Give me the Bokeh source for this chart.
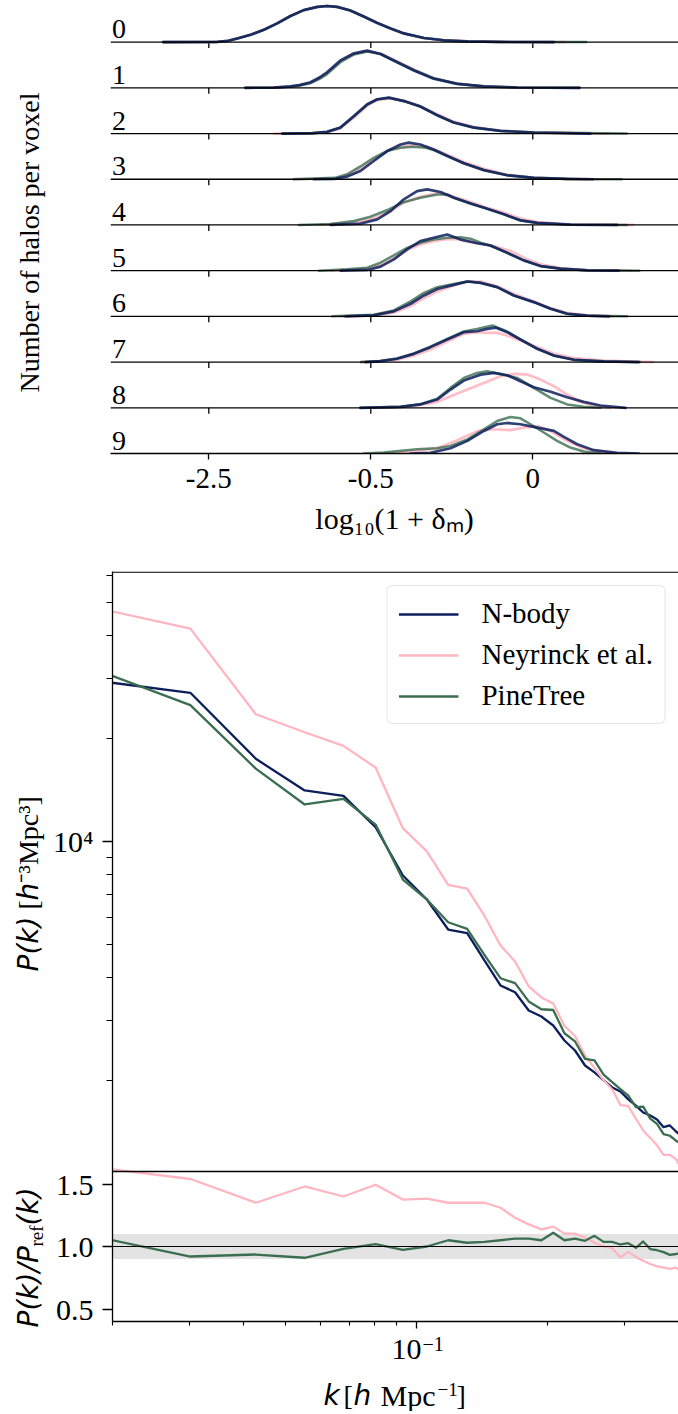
import math
from bokeh.plotting import figure
from bokeh.models import (Range1d, Span, FixedTicker, CustomJSTickFormatter,
                          BoxAnnotation, Legend, LegendItem, LinearScale)
from bokeh.layouts import column, row
from bokeh.core.properties import value
from bokeh.embed import file_html
from bokeh.resources import INLINE

# ------------------------------------------------------------------ data
ROW_LABELS = ["0", "1", "2", "3", "4", "5", "6", "7", "8", "9"]
RIDGE_TICKS = [-1.0, -0.5, 0.0]
RIDGE_TICK_LABELS = ["-2.5", "-0.5", "0"]

# N-body ridge curves (x in log10(1+delta), h in row heights)
NBODY_RIDGE_X = [
    [-1.141, -0.974, -0.94, -0.912, -0.871, -0.830, -0.789, -0.748, -0.707, -0.665, -0.635, -0.604, -0.563, -0.522, -0.480, -0.439, -0.398, -0.336, -0.275, -0.202, -0.100, 0.065],
    [-0.887, -0.80, -0.748, -0.72, -0.686, -0.66, -0.635, -0.594, -0.552, -0.511, -0.470, -0.419, -0.367, -0.306, -0.233, -0.151, -0.048, 0.144],
    [-0.773, -0.68, -0.635, -0.594, -0.552, -0.511, -0.480, -0.444, -0.398, -0.347, -0.295, -0.244, -0.182, -0.100, 0.003, 0.178],
    [-0.676, -0.61, -0.573, -0.532, -0.491, -0.449, -0.408, -0.383, -0.347, -0.306, -0.264, -0.213, -0.151, -0.079, 0.003, 0.106, 0.185],
    [-0.624, -0.532, -0.48, -0.439, -0.398, -0.357, -0.326, -0.285, -0.244, -0.192, -0.141, -0.089, -0.038, 0.014, 0.116, 0.26],
    [-0.593, -0.511, -0.47, -0.429, -0.388, -0.347, -0.306, -0.264, -0.223, -0.172, -0.131, -0.079, -0.028, 0.024, 0.085, 0.168, 0.265],
    [-0.578, -0.491, -0.429, -0.377, -0.336, -0.295, -0.244, -0.202, -0.161, -0.11, -0.059, 0.003, 0.055, 0.106, 0.168, 0.235],
    [-0.516, -0.47, -0.419, -0.367, -0.316, -0.264, -0.213, -0.172, -0.141, -0.115, -0.079, -0.038, 0.014, 0.065, 0.127, 0.219, 0.327],
    [-0.532, -0.408, -0.347, -0.295, -0.254, -0.213, -0.161, -0.12, -0.079, -0.038, 0.003, 0.055, 0.106, 0.157, 0.209, 0.286],
    [-0.377, -0.316, -0.254, -0.202, -0.151, -0.11, -0.079, -0.038, 0.014, 0.065, 0.096, 0.137, 0.188, 0.26, 0.327],
]
NBODY_RIDGE_H = [
    [0, 0.005, 0.03, 0.08, 0.16, 0.27, 0.41, 0.57, 0.70, 0.77, 0.79, 0.77, 0.69, 0.56, 0.42, 0.30, 0.19, 0.09, 0.04, 0.015, 0.003, 0],
    [0, 0.005, 0.03, 0.06, 0.123, 0.22, 0.34, 0.6, 0.755, 0.813, 0.74, 0.56, 0.38, 0.2, 0.087, 0.03, 0.007, 0],
    [0, 0.008, 0.036, 0.13, 0.385, 0.64, 0.75, 0.785, 0.71, 0.59, 0.40, 0.24, 0.13, 0.058, 0.022, 0],
    [0, 0.01, 0.058, 0.18, 0.40, 0.617, 0.76, 0.80, 0.76, 0.65, 0.51, 0.35, 0.2, 0.087, 0.03, 0.007, 0],
    [0, 0.03, 0.123, 0.305, 0.56, 0.74, 0.777, 0.72, 0.595, 0.47, 0.356, 0.232, 0.1, 0.044, 0.007, 0],
    [0, 0.015, 0.087, 0.247, 0.465, 0.646, 0.72, 0.79, 0.68, 0.6, 0.55, 0.39, 0.225, 0.1, 0.044, 0.007, 0],
    [0, 0.022, 0.109, 0.276, 0.458, 0.6, 0.69, 0.763, 0.733, 0.64, 0.458, 0.312, 0.167, 0.058, 0.015, 0],
    [0, 0.02, 0.073, 0.18, 0.327, 0.494, 0.654, 0.675, 0.726, 0.755, 0.654, 0.494, 0.29, 0.145, 0.05, 0.015, 0],
    [0, 0.022, 0.073, 0.18, 0.4, 0.596, 0.726, 0.763, 0.712, 0.58, 0.45, 0.35, 0.232, 0.13, 0.05, 0],
    [0, 0.015, 0.116, 0.276, 0.494, 0.64, 0.668, 0.64, 0.566, 0.494, 0.363, 0.203, 0.073, 0.015, 0],
]

# Neyrinck et al. ridge curves
NEYRINCK_RIDGE_X = [
    [-1.141, -0.974, -0.94, -0.912, -0.871, -0.830, -0.789, -0.748, -0.707, -0.665, -0.635, -0.604, -0.563, -0.522, -0.480, -0.439, -0.398, -0.336, -0.275, -0.202, -0.100, 0.10],
    [-0.887, -0.80, -0.748, -0.72, -0.686, -0.66, -0.635, -0.594, -0.552, -0.511, -0.470, -0.419, -0.367, -0.306, -0.233, -0.151, -0.048, 0.144],
    [-0.799, -0.68, -0.635, -0.594, -0.552, -0.511, -0.480, -0.444, -0.398, -0.347, -0.295, -0.244, -0.182, -0.100, 0.003, 0.234],
    [-0.738, -0.61, -0.573, -0.532, -0.491, -0.449, -0.408, -0.367, -0.326, -0.285, -0.25, -0.213, -0.151, -0.079, 0.003, 0.106, 0.2],
    [-0.655, -0.552, -0.491, -0.439, -0.398, -0.347, -0.295, -0.254, -0.192, -0.141, -0.089, -0.038, 0.014, 0.116, 0.31],
    [-0.62, -0.511, -0.47, -0.429, -0.388, -0.347, -0.306, -0.264, -0.223, -0.172, -0.12, -0.069, -0.017, 0.024, 0.085, 0.168, 0.3],
    [-0.59, -0.491, -0.429, -0.377, -0.336, -0.295, -0.244, -0.202, -0.161, -0.11, -0.059, 0.003, 0.055, 0.106, 0.168, 0.25],
    [-0.53, -0.419, -0.367, -0.316, -0.264, -0.213, -0.172, -0.141, -0.11, -0.079, -0.038, 0.014, 0.065, 0.127, 0.219, 0.372],
    [-0.5, -0.408, -0.347, -0.295, -0.254, -0.202, -0.151, -0.1, -0.058, -0.017, 0.024, 0.065, 0.106, 0.147, 0.199, 0.24],
    [-0.46, -0.357, -0.295, -0.233, -0.172, -0.12, -0.069, -0.028, 0.014, 0.055, 0.106, 0.157, 0.219, 0.26],
]
NEYRINCK_RIDGE_H = [
    [0, 0.005, 0.03, 0.08, 0.16, 0.27, 0.41, 0.57, 0.70, 0.77, 0.79, 0.77, 0.69, 0.56, 0.42, 0.30, 0.19, 0.09, 0.04, 0.015, 0.003, 0],
    [0, 0.004, 0.027, 0.055, 0.11, 0.2, 0.32, 0.58, 0.74, 0.80, 0.75, 0.58, 0.40, 0.21, 0.09, 0.03, 0.007, 0],
    [0, 0.01, 0.03, 0.11, 0.35, 0.61, 0.73, 0.77, 0.72, 0.60, 0.42, 0.26, 0.14, 0.062, 0.024, 0],
    [0, 0.02, 0.087, 0.23, 0.436, 0.617, 0.71, 0.74, 0.71, 0.60, 0.49, 0.378, 0.23, 0.1, 0.035, 0.008, 0],
    [0, 0.05, 0.138, 0.305, 0.487, 0.617, 0.69, 0.646, 0.5, 0.378, 0.27, 0.138, 0.065, 0.01, 0],
    [0, 0.044, 0.116, 0.26, 0.45, 0.574, 0.646, 0.697, 0.683, 0.61, 0.537, 0.43, 0.247, 0.138, 0.058, 0.01, 0],
    [0, 0.02, 0.08, 0.225, 0.4, 0.545, 0.675, 0.763, 0.763, 0.66, 0.494, 0.327, 0.18, 0.08, 0.02, 0],
    [0, 0.05, 0.145, 0.276, 0.45, 0.617, 0.654, 0.64, 0.64, 0.58, 0.47, 0.327, 0.18, 0.087, 0.03, 0],
    [0, 0.02, 0.06, 0.13, 0.254, 0.4, 0.545, 0.69, 0.74, 0.726, 0.617, 0.472, 0.29, 0.13, 0.036, 0],
    [0, 0.058, 0.116, 0.29, 0.49, 0.53, 0.51, 0.566, 0.6, 0.49, 0.276, 0.116, 0.03, 0],
]

# PineTree ridge curves
PINETREE_RIDGE_X = [
    [-1.141, -0.974, -0.94, -0.912, -0.871, -0.830, -0.789, -0.748, -0.707, -0.665, -0.635, -0.604, -0.563, -0.522, -0.480, -0.439, -0.398, -0.336, -0.275, -0.202, -0.100, 0.165],
    [-0.887, -0.80, -0.748, -0.72, -0.686, -0.66, -0.635, -0.594, -0.552, -0.511, -0.470, -0.419, -0.367, -0.306, -0.233, -0.151, -0.048, 0.144],
    [-0.773, -0.68, -0.635, -0.594, -0.552, -0.511, -0.480, -0.444, -0.398, -0.347, -0.295, -0.244, -0.182, -0.100, 0.003, 0.29],
    [-0.738, -0.61, -0.573, -0.532, -0.491, -0.449, -0.408, -0.37, -0.33, -0.306, -0.264, -0.213, -0.151, -0.079, 0.003, 0.106, 0.274],
    [-0.722, -0.624, -0.552, -0.501, -0.449, -0.398, -0.347, -0.295, -0.264, -0.244, -0.192, -0.141, -0.089, -0.038, 0.014, 0.116, 0.29],
    [-0.66, -0.573, -0.511, -0.47, -0.429, -0.388, -0.347, -0.306, -0.264, -0.223, -0.192, -0.161, -0.131, -0.079, -0.028, 0.024, 0.085, 0.168, 0.329],
    [-0.619, -0.491, -0.429, -0.377, -0.336, -0.295, -0.244, -0.202, -0.161, -0.11, -0.059, 0.003, 0.055, 0.106, 0.168, 0.291],
    [-0.53, -0.47, -0.419, -0.367, -0.316, -0.264, -0.213, -0.172, -0.125, -0.079, -0.038, 0.014, 0.065, 0.127, 0.219, 0.33],
    [-0.532, -0.408, -0.347, -0.295, -0.254, -0.213, -0.172, -0.141, -0.1, -0.048, 0.003, 0.055, 0.106, 0.157, 0.209],
    [-0.522, -0.46, -0.357, -0.295, -0.254, -0.202, -0.151, -0.11, -0.069, -0.038, -0.007, 0.034, 0.075, 0.116, 0.157, 0.209],
]
PINETREE_RIDGE_H = [
    [0, 0.005, 0.03, 0.08, 0.16, 0.27, 0.41, 0.57, 0.70, 0.77, 0.79, 0.77, 0.69, 0.56, 0.42, 0.30, 0.19, 0.09, 0.04, 0.015, 0.003, 0],
    [0, 0.004, 0.025, 0.05, 0.10, 0.19, 0.30, 0.56, 0.73, 0.795, 0.74, 0.57, 0.39, 0.21, 0.09, 0.03, 0.007, 0],
    [0, 0.008, 0.035, 0.125, 0.375, 0.63, 0.745, 0.78, 0.71, 0.59, 0.40, 0.24, 0.13, 0.058, 0.022, 0],
    [0, 0.03, 0.11, 0.28, 0.47, 0.62, 0.69, 0.71, 0.69, 0.64, 0.51, 0.35, 0.2, 0.087, 0.03, 0.007, 0],
    [0, 0.022, 0.087, 0.18, 0.327, 0.5, 0.595, 0.668, 0.668, 0.6, 0.47, 0.356, 0.232, 0.1, 0.044, 0.007, 0],
    [0, 0.03, 0.065, 0.174, 0.334, 0.5, 0.61, 0.683, 0.72, 0.733, 0.70, 0.61, 0.55, 0.39, 0.225, 0.1, 0.044, 0.007, 0],
    [0, 0.036, 0.13, 0.327, 0.516, 0.64, 0.71, 0.763, 0.733, 0.64, 0.458, 0.312, 0.167, 0.058, 0.015, 0],
    [0, 0.025, 0.08, 0.19, 0.34, 0.51, 0.67, 0.726, 0.80, 0.67, 0.494, 0.29, 0.14, 0.05, 0.015, 0],
    [0, 0.022, 0.08, 0.2, 0.436, 0.654, 0.763, 0.8, 0.74, 0.654, 0.436, 0.218, 0.073, 0.022, 0],
    [0, 0.022, 0.094, 0.116, 0.167, 0.31, 0.53, 0.71, 0.8, 0.77, 0.64, 0.46, 0.276, 0.13, 0.044, 0],
]

# Power spectra
K = [0.0176, 0.0302, 0.0427, 0.0553, 0.0679, 0.0805, 0.0930, 0.1056, 0.1182, 0.1307,
     0.1433, 0.1559, 0.1684, 0.1810, 0.1936, 0.2061, 0.2187, 0.2313, 0.2439, 0.2564,
     0.2690, 0.2816, 0.2941, 0.3067, 0.3193, 0.3318, 0.3444, 0.3570, 0.3696, 0.3821,
     0.3947, 0.4073]
PK_NBODY = [29720, 27220, 17450, 14100, 13600, 11010, 7955, 6767, 5529, 5393,
            4487, 3793, 3625, 3205, 3078, 2897, 2619, 2448, 2213, 2112,
            2007, 1909, 1858, 1761, 1690, 1613, 1580, 1539, 1461, 1478,
            1419, 1372]
PK_NEYRINCK = [48740, 41920, 23560, 20870, 19040, 16450, 10940, 9359, 7464, 7281,
               6057, 4969, 4459, 3772, 3500, 3358, 2889, 2700, 2368, 2175,
               2007, 1884, 1696, 1685, 1546, 1429, 1359, 1293, 1213, 1212,
               1178, 1098]
PK_PINETREE = [32400, 25040, 16330, 12830, 13330, 11210, 7740, 6767, 5805, 5555,
               4653, 3983, 3853, 3407, 3232, 3216, 2750, 2602, 2313, 2292,
               2081, 1980, 1888, 1807, 1673, 1678, 1548, 1493, 1395, 1379,
               1334, 1303]
PK_MAJOR_TICKS = [1e4]
PK_MAJOR_LABELS = ["10\u2074"]
PK_MINOR_TICKS = [2000, 3000, 4000, 5000, 6000, 7000, 8000, 9000,
                  20000, 30000, 40000, 50000, 60000]
K_MAJOR_TICKS = [0.1]
K_MAJOR_BASE = "10"
K_MAJOR_EXP = "\u22121"
K_MINOR_TICKS = [0.02, 0.03, 0.04, 0.05, 0.06, 0.07, 0.08, 0.09, 0.2, 0.3, 0.4]
RATIO_TICKS = [0.5, 1.0, 1.5]
RATIO_LABELS = ["0.5", "1.0", "1.5"]
RATIO_BAND = [0.9, 1.1]
SERIES_NAMES = ["N-body", "Neyrinck et al.", "PineTree"]

# ------------------------------------------------------------------ style / layout
SERIF = "Liberation Serif"
SANS = "DejaVu Sans"
NAVY = "#0c1f5c"
PINK = "#ffb6c1"
GREEN = "#3b6e51"
TICK_FS = "29px"
POW_FS = "30px"
LABEL_FS = "30px"
ROWLAB_FS = "28px"

STRIP_W = 50
ROW_PX = 45.71
X1 = (-1.3034, 0.4497)
F1_W, F1_H, B1_TOP, B1_BOT = 568, 453, 0, 107
Y1 = (0.0, F1_H / ROW_PX)
KR = (0.02, 0.4021)
F2_W, B2_TOP = 567, 11
MAIN_H, RATIO_H = 600, 150          # main panel and ratio panel heights (px)
F2_H = MAIN_H + RATIO_H
B2_BOT = 12
PR_TOP = 61590                      # P(k) at top of main panel
PR_MAIN_BOTTOM = 1084               # P(k) at bottom of main panel
RR = (0.4, 1.6)                     # ratio panel range
BOT_H = 78
H1 = B1_TOP + F1_H + B1_BOT
H2 = B2_TOP + F2_H + B2_BOT
P2_TOP = H1
BOT_TOP = H1 + H2

DEC_Y = MAIN_H / math.log10(PR_TOP / PR_MAIN_BOTTOM)           # px per decade
PR = (PR_MAIN_BOTTOM / 10 ** (RATIO_H / DEC_Y), PR_TOP)         # full frame log range
PY_R = RATIO_H / (RR[1] - RR[0])                                # px per ratio unit
RR_FULL = (RR[0], RR[0] + F2_H / PY_R)


def fixed_labels(tick_values, tick_texts):
    return CustomJSTickFormatter(args=dict(tv=list(tick_values), tl=list(tick_texts)), code="""
        for (let i = 0; i < tv.length; i++) {
            if (Math.abs(tv[i] - tick) <= 1e-9 * Math.max(1, Math.abs(tick))) return tl[i];
        }
        return "";
    """)


def style_axis(ax, tick_out=6, minor_out=0, fs=TICK_FS):
    ax.axis_line_color = "black"
    ax.axis_line_width = 1.3
    ax.major_tick_line_color = "black"
    ax.major_tick_line_width = 1.3
    ax.major_tick_out = tick_out
    ax.major_tick_in = 0
    ax.minor_tick_line_color = "black" if minor_out else None
    ax.minor_tick_line_width = 1.1
    ax.minor_tick_out = minor_out
    ax.minor_tick_in = 0
    ax.major_label_text_font = SERIF
    ax.major_label_text_font_size = fs
    ax.major_label_text_color = "black"
    ax.axis_label_text_font = SERIF
    ax.axis_label_text_font_size = LABEL_FS
    ax.axis_label_text_font_style = "normal"
    ax.axis_label_text_color = "black"


def base_fig(**kw):
    p = figure(output_backend="svg", toolbar_location=None, min_border_right=0, **kw)
    p.outline_line_color = None
    p.grid.visible = False
    return p


def strip_fig(width, height):
    s = figure(frame_width=width, frame_height=height, x_range=Range1d(0, width),
               y_range=Range1d(0, height), min_border_left=0, min_border_right=0,
               min_border_top=0, min_border_bottom=0, output_backend="svg", toolbar_location=None)
    s.outline_line_color = None
    s.grid.visible = False
    s.axis.visible = False
    return s


def put_text(s, height, txt, x, y_from_top, font, style, size, align="left", angle=0.0):
    s.text(x=[x], y=[height - y_from_top], text=[txt], angle=angle,
           text_font=value(font), text_font_style=style, text_font_size=size,
           text_align=align, text_baseline="middle", text_color="black")


UP = math.pi / 2

# ------------------------------------------------------------------ ridge panel
p1 = base_fig(frame_width=F1_W, frame_height=F1_H, x_range=Range1d(*X1), y_range=Range1d(*Y1),
              min_border_left=110 - STRIP_W, min_border_top=B1_TOP, min_border_bottom=B1_BOT)
p1.yaxis.visible = False
p1.xaxis.ticker = FixedTicker(ticks=RIDGE_TICKS, minor_ticks=[])
p1.xaxis.formatter = fixed_labels(RIDGE_TICKS, RIDGE_TICK_LABELS)
style_axis(p1.xaxis[0], tick_out=6)
p1.xaxis.major_label_standoff = 9
p1.xaxis.axis_label = "log\u2081\u2080(1 + \u03b4\u2098)"
p1.xaxis.axis_label_standoff = 11

n_rows = len(ROW_LABELS)
for i in range(n_rows - 1):
    p1.add_layout(Span(location=n_rows - 1 - i, dimension="width", line_color="black", line_width=1.3))
tx = [t for i in range(n_rows - 1) for t in RIDGE_TICKS]
ty = [n_rows - 1 - i for i in range(n_rows - 1) for t in RIDGE_TICKS]
p1.ray(x=tx, y=ty, length=6, length_units="screen", angle=-math.pi / 2,
       line_color="black", line_width=1.3)

for xs_all, hs_all, col, alpha, lw in [
        (NEYRINCK_RIDGE_X, NEYRINCK_RIDGE_H, PINK, 0.9, 2.7),
        (PINETREE_RIDGE_X, PINETREE_RIDGE_H, GREEN, 0.8, 2.5),
        (NBODY_RIDGE_X, NBODY_RIDGE_H, NAVY, 0.85, 2.7)]:
    for i in range(n_rows):
        base = n_rows - 1 - i
        p1.line(xs_all[i], [base + h for h in hs_all[i]], line_color=col, line_alpha=alpha,
                line_width=lw, line_join="round", line_cap="round")

p1.text(x=[X1[0] + 1.5 / (F1_W / (X1[1] - X1[0]))] * n_rows,
        y=[n_rows - 1 - i + 13 / ROW_PX for i in range(n_rows)], text=ROW_LABELS,
        text_font=value(SERIF), text_font_size=ROWLAB_FS, text_color="black",
        text_align="left", text_baseline="middle")

s1 = strip_fig(STRIP_W, H1)
put_text(s1, H1, "Number of halos per voxel", 29, 242, SERIF, "normal", "28px", "center", UP)

# ------------------------------------------------------------------ power spectrum + ratio (one frame)
p2 = base_fig(frame_width=F2_W, frame_height=F2_H, x_axis_type="log", y_axis_type="log",
              x_range=Range1d(*KR), y_range=Range1d(*PR),
              min_border_left=111 - STRIP_W, min_border_top=B2_TOP, min_border_bottom=B2_BOT)
p2.extra_y_ranges = {"ratio": Range1d(*RR_FULL)}
p2.extra_y_scales = {"ratio": LinearScale()}

# y axis: P(k) ticks in the main panel, ratio ticks placed at the ratio panel positions
ratio_tick_pos = [PR[0] * 10 ** ((r - RR[0]) * PY_R / DEC_Y) for r in RATIO_TICKS]
p2.yaxis.ticker = FixedTicker(ticks=ratio_tick_pos + PK_MAJOR_TICKS, minor_ticks=PK_MINOR_TICKS)
p2.yaxis.formatter = fixed_labels(ratio_tick_pos + PK_MAJOR_TICKS, RATIO_LABELS + PK_MAJOR_LABELS)
style_axis(p2.yaxis[0], tick_out=10, minor_out=6, fs=POW_FS)
p2.yaxis.major_label_standoff = 9

p2.xaxis.ticker = FixedTicker(ticks=K_MAJOR_TICKS, minor_ticks=K_MINOR_TICKS)
p2.xaxis.formatter = fixed_labels(K_MAJOR_TICKS, [""])
style_axis(p2.xaxis[0], tick_out=7, minor_out=4, fs="0px")
p2.xaxis.major_label_standoff = 0

# frame top line, grey band and unity line of the ratio panel
p2.add_layout(Span(location=PR[1] / 10 ** (0.7 / DEC_Y), dimension="width",
                   line_color="black", line_width=1.3))
p2.add_layout(BoxAnnotation(bottom=RATIO_BAND[0], top=RATIO_BAND[1], y_range_name="ratio",
                            fill_color="#e3e3e3", fill_alpha=1.0, line_color=None, level="underlay"))
p2.add_layout(Span(location=1.0, dimension="width", y_range_name="ratio",
                   line_color="black", line_width=1.2))

r_nb = p2.line(K, PK_NBODY, line_color=NAVY, line_width=2.3, line_join="round")
r_ny = p2.line(K, PK_NEYRINCK, line_color=PINK, line_width=2.3, line_join="round")
r_pt = p2.line(K, PK_PINETREE, line_color=GREEN, line_width=2.3, line_join="round")

ratio_ny = [a / b for a, b in zip(PK_NEYRINCK, PK_NBODY)]
ratio_pt = [a / b for a, b in zip(PK_PINETREE, PK_NBODY)]
p2.line(K, ratio_ny, y_range_name="ratio", line_color=PINK, line_width=2.3, line_join="round")
p2.line(K, ratio_pt, y_range_name="ratio", line_color=GREEN, line_width=2.3, line_join="round")

# separator between the two panels
p2.add_layout(Span(location=RR[1], dimension="width", y_range_name="ratio",
                   line_color="black", line_width=1.3))

legend = Legend(items=[LegendItem(label=SERIES_NAMES[0], renderers=[r_nb]),
                       LegendItem(label=SERIES_NAMES[1], renderers=[r_ny]),
                       LegendItem(label=SERIES_NAMES[2], renderers=[r_pt])],
                location="top_right")
legend.margin = 14
legend.padding = 11
legend.spacing = 8
legend.glyph_width = 60
legend.glyph_height = 30
legend.label_height = 30
legend.label_standoff = 23
legend.label_text_font = SERIF
legend.label_text_font_size = "29px"
legend.label_text_color = "black"
legend.border_line_color = "#cccccc"
legend.border_line_width = 1.5
legend.background_fill_color = "white"
legend.background_fill_alpha = 1.0
if "border_radius" in Legend.properties():
    legend.border_radius = 6
p2.add_layout(legend)

s2 = strip_fig(STRIP_W, H2)
put_text(s2, H2, "P(k)", 28, 960 - P2_TOP, SANS, "italic", "28px", "left", UP)
put_text(s2, H2, "[", 28, 898 - P2_TOP, SERIF, "normal", "28px", "left", UP)
put_text(s2, H2, "h", 28, 889 - P2_TOP, SANS, "italic", "28px", "left", UP)
put_text(s2, H2, "\u207b\u00b3Mpc\u00b3]", 28, 871 - P2_TOP, SERIF, "normal", "28px", "left", UP)
put_text(s2, H2, "P(k)/P", 28, 1316 - P2_TOP, SANS, "italic", "28px", "left", UP)
put_text(s2, H2, "ref", 36, 1235 - P2_TOP, SERIF, "normal", "19px", "left", UP)
put_text(s2, H2, "(k)", 28, 1214 - P2_TOP, SANS, "italic", "28px", "left", UP)

# ------------------------------------------------------------------ bottom strip: k tick label & axis label
DEC_X = F2_W / math.log10(KR[1] / KR[0])
x_tick = 111 + DEC_X * math.log10(K_MAJOR_TICKS[0] / KR[0])
sb = strip_fig(678, BOT_H)
put_text(sb, BOT_H, K_MAJOR_BASE, x_tick + 6, 1348.5 - BOT_TOP, SERIF, "normal", "30px", "right")
put_text(sb, BOT_H, K_MAJOR_EXP, x_tick + 7, 1343 - BOT_TOP, SERIF, "normal", "20px", "left")
put_text(sb, BOT_H, "k", 323, 1395 - BOT_TOP, SANS, "italic", "28px")
put_text(sb, BOT_H, "[", 343, 1395 - BOT_TOP, SERIF, "normal", "28px")
put_text(sb, BOT_H, "h", 353, 1395 - BOT_TOP, SANS, "italic", "28px")
put_text(sb, BOT_H, "Mpc", 380, 1395 - BOT_TOP, SERIF, "normal", "30px")
put_text(sb, BOT_H, "\u22121", 437, 1389 - BOT_TOP, SERIF, "normal", "19px")
put_text(sb, BOT_H, "]", 456, 1395 - BOT_TOP, SERIF, "normal", "28px")

layout = column(row(s1, p1, spacing=0), row(s2, p2, spacing=0), sb, spacing=0)
open("out.html", "w").write(file_html(layout, INLINE))
